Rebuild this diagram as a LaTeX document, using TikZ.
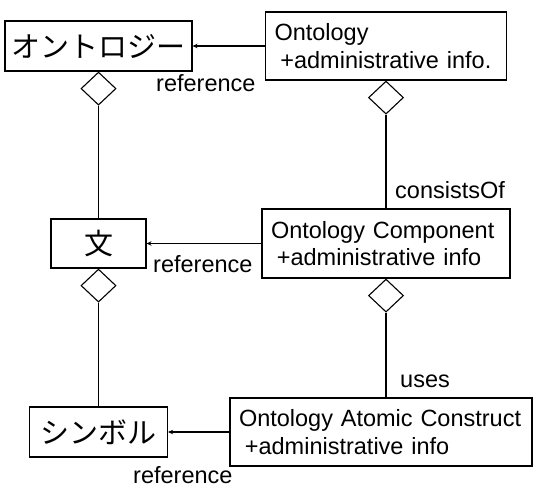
\documentclass[tikz,border=0pt]{standalone}
\usepackage{fontspec}
\setmainfont{Liberation Sans}
\newfontfamily\jpfont{Noto Sans CJK JP}
\usetikzlibrary{shapes.geometric,arrows.meta}

\begin{document}
\begin{tikzpicture}[x=1pt,y=-1pt,
  box/.style={draw,line width=1.1pt,inner sep=0pt,font=\jpfont\fontsize{29}{31}\selectfont},
  cls/.style={draw,line width=1.1pt,inner xsep=9pt,inner ysep=0pt,align=left,font=\fontsize{23.5}{27.5}\selectfont},
  agg/.style={draw,diamond,line width=1.1pt,inner sep=0pt,minimum width=35pt,minimum height=33pt},
  lbl/.style={font=\fontsize{23.5}{27.5}\selectfont,inner sep=0pt},
  link/.style={line width=1.1pt},
  refarrow/.style={line width=1.1pt,-{Stealth[length=5pt,width=4.5pt]}}]
\useasboundingbox (0,0) rectangle (533,487);
% left column
\node[box,minimum width=187pt,minimum height=50pt] (onto) at (98.5,46) {オントロジー};
\node[box,minimum width=95pt,minimum height=49pt] (bun) at (98.5,243.5) {文};
\node[box,minimum width=138pt,minimum height=50pt] (sym) at (98.5,432) {シンボル};
% right column
\node[cls,text width=223pt,minimum height=68pt] (ontology) at (386,46) {Ontology\\\hspace*{.25em}+administrative info.};
\node[cls,text width=230pt,minimum height=69pt] (comp) at (386,243.5) {Ontology Component\\\hspace*{.25em}+administrative info};
\node[cls,text width=284pt,minimum height=68pt] (atom) at (381,432) {\mbox{Ontology Atomic Construct}\\\hspace*{.25em}+administrative info};
% aggregation diamonds
\node[agg,anchor=north] (dOnto) at (onto.south) {};
\node[agg,anchor=north] (dBun) at (bun.south) {};
\node[agg,anchor=north] (dOntology) at (ontology.south) {};
\node[agg,anchor=north] (dComp) at (comp.south) {};
\draw[link] (dOnto.south) -- (bun.north);
\draw[link] (dBun.south) -- (sym.north);
\draw[link] (dOntology.south) -- (comp.north);
\draw[link] (dComp.south) -- (dComp.south |- atom.north);
% references
\draw[refarrow] (ontology) -- (onto);
\draw[refarrow] (comp) -- (bun);
\draw[refarrow] (atom) -- (sym);
% labels
\node[lbl,anchor=base west] (ref1) at (156,92) {reference};
\node[lbl,anchor=base west] (ref2) at (153,272) {reference};
\node[lbl,anchor=base west] (ref3) at (133,483) {reference};
\node[lbl,anchor=base west] (consists) at (395,198) {consistsOf};
\node[lbl,anchor=base west] (uses) at (400,387) {uses};
\end{tikzpicture}
\end{document}
